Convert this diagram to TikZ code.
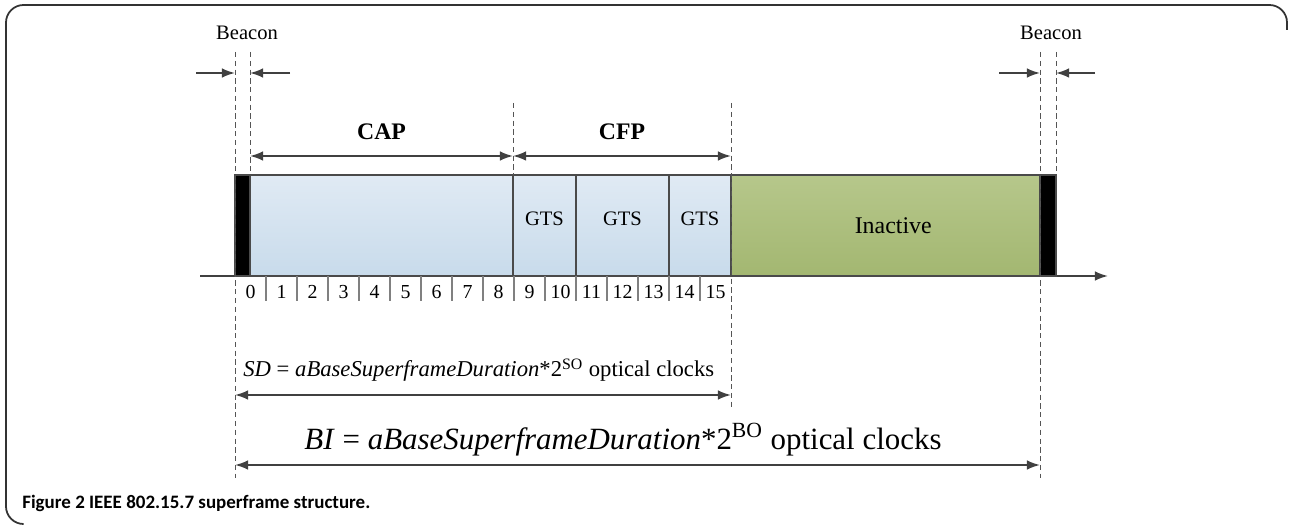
\documentclass[tikz,border=0pt]{standalone}
\usepackage{fontspec}
\setmainfont{Liberation Serif}
\newfontfamily\capfont{Carlito}
\usetikzlibrary{arrows.meta,positioning,fit}

\definecolor{arrowgray}{HTML}{404040}
\definecolor{edgegray}{HTML}{4A4A4A}
\definecolor{guidegray}{HTML}{555555}
\definecolor{captop}{HTML}{E0EAF4}
\definecolor{capbot}{HTML}{C8DBEB}
\definecolor{inatop}{HTML}{B6C78B}
\definecolor{inabot}{HTML}{A3B771}

\tikzset{
  dimline/.style={draw=arrowgray, line width=1pt, {Latex[length=7.5pt,width=5.5pt]}-{Latex[length=7.5pt,width=5.5pt]}},
  pointer/.style={draw=arrowgray, line width=1pt, -{Latex[length=7.5pt,width=5.5pt]}},
  guide/.style={draw=guidegray, line width=0.5pt, dash pattern=on 3pt off 2pt},
  slotbox/.style={draw=edgegray, line width=0.7pt, inner sep=0pt, top color=captop, bottom color=capbot},
  inabox/.style={draw=edgegray, line width=0.7pt, inner sep=0pt, top color=inatop, bottom color=inabot},
  beaconbox/.style={draw=edgegray, fill=black, line width=0.7pt, inner sep=0pt},
  tick/.style={draw=black!50, line width=0.6pt},
  label/.style={font=\fontsize{11.7}{13}\selectfont, inner sep=0pt},
  period/.style={font=\fontsize{13.5}{15}\selectfont\bfseries, inner sep=0pt},
  slotnum/.style={font=\fontsize{11.3}{13}\selectfont, inner sep=0pt}
}

\begin{document}
\begin{tikzpicture}[x=0.02cm, y=-0.02cm]
  \useasboundingbox (0,0) rectangle (1290,526);
  % frame
  \draw[black!80, line width=1pt, rounded corners=10pt]
    (22,524) -- (6,524) -- (6,5) -- (1287,5) -- (1287,30);

  % time axis
  \coordinate (axL) at (200,276);
  \coordinate (axR) at (1108,276);
  \draw[pointer] (axL) -- (axR);

  % superframe blocks
  \node[beaconbox, fit={(235,175) (250,276)}] (bcnA) {};
  \node[slotbox, fit={(250,175) (513,276)}] (cap) {};
  \node[slotbox, fit={(513,175) (576,276)}, label] (gtsA) {GTS};
  \node[slotbox, fit={(576,175) (669,276)}, label] (gtsB) {GTS};
  \node[slotbox, fit={(669,175) (731,276)}, label] (gtsC) {GTS};
  \node[inabox, fit={(731,175) (1040,276)}] (inactive) {};
  \node[font=\fontsize{13.6}{15}\selectfont, inner sep=0pt, right=124 of inactive.west] (inalab) {Inactive};
  \node[beaconbox, fit={(1040,175) (1056,276)}] (bcnB) {};

  % slots
  \foreach \i in {1,...,15}
    \draw[tick] (235+31*\i,276) -- (235+31*\i,301);
  \foreach \i in {0,...,15}
    \node[slotnum] (num\i) at (250.5+31*\i,292) {\i};

  % dashed guides
  \coordinate (g1t) at (235,52);   \coordinate (g1b) at (235,478);
  \coordinate (g2t) at (250,52);   \coordinate (g2b) at (250,175);
  \coordinate (g3t) at (513,103);  \coordinate (g3b) at (513,175);
  \coordinate (g4t) at (731,103);  \coordinate (g4b) at (731,408);
  \coordinate (g5t) at (1040,52);  \coordinate (g5b) at (1040,478);
  \coordinate (g6t) at (1056,52);  \coordinate (g6b) at (1056,175);
  \foreach \g in {1,...,6}
    \draw[guide] (g\g t) -- (g\g b);

  % beacon widths
  \node[label] (bcnlabA) at (247,33) {Beacon};
  \node[label] (bcnlabB) at (1051,33) {Beacon};
  \coordinate (inA1) at (196,73);  \coordinate (inA2) at (290,73);
  \coordinate (inB1) at (999,73);  \coordinate (inB2) at (1095,73);
  \draw[pointer] (inA1) -- (g1t |- inA1);
  \draw[pointer] (inA2) -- (g2t |- inA2);
  \draw[pointer] (inB1) -- (g5t |- inB1);
  \draw[pointer] (inB2) -- (g6t |- inB2);

  % CAP / CFP
  \coordinate (capL) at (250,156);
  \draw[dimline] (capL) -- (g3t |- capL) node[midway, above=9pt, period] (caplab) {CAP};
  \draw[dimline] (g3t |- capL) -- (g4t |- capL) node[midway, above=9pt, period] (cfplab) {CFP};

  % SD and BI
  \coordinate (sdL) at (235,395);
  \coordinate (biL) at (235,465);
  \draw[dimline] (sdL) -- (g4t |- sdL);
  \node[anchor=base west, inner sep=0pt, font=\fontsize{12.9}{15}\selectfont] (sdlab) at (243,377)
    {\textit{SD} = \textit{aBaseSuperframeDuration}*2\textsuperscript{SO} optical clocks};
  \draw[dimline] (biL) -- (g5t |- biL);
  \node[anchor=base, inner sep=0pt, font=\fontsize{17.6}{20}\selectfont] (bilab) at (623,449)
    {\textit{BI} = \textit{aBaseSuperframeDuration}*2\textsuperscript{BO} optical clocks};

  % caption
  \node[anchor=base west, inner sep=0pt, font=\capfont\bfseries\fontsize{10.8}{12}\selectfont] (caption) at (22,508)
    {Figure 2 IEEE 802.15.7 superframe structure.};
\end{tikzpicture}
\end{document}
